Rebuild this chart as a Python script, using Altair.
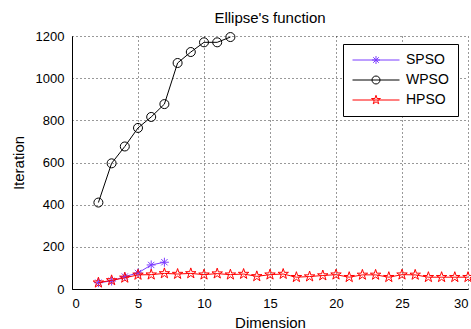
import math

import altair as alt
import pandas as pd

# Series names and their line colours
series_names = ["SPSO", "WPSO", "HPSO"]
series_colors = ["#7b3cff", "#000000", "#ff0000"]

# Iteration counts per dimension for each algorithm
spso_dim = [2, 3, 4, 5, 6, 7]
spso_iter = [30, 38, 59, 76, 114, 127]

wpso_dim = [2, 3, 4, 5, 6, 7, 8, 9, 10, 11, 12]
wpso_iter = [410, 596, 676, 764, 816, 877, 1072, 1124, 1170, 1170, 1195]

hpso_dim = list(range(2, 31))
hpso_iter = [30, 41, 53, 67, 68, 74, 71, 74, 68, 73, 68, 71, 60, 68, 71,
             56, 59, 64, 68, 56, 67, 67, 56, 68, 67, 56, 56, 56, 56]

x_ticks = [0, 5, 10, 15, 20, 25, 30]
y_ticks = [0, 200, 400, 600, 800, 1000, 1200]

FONT = "Liberation Sans"


# Marker outlines in the [-1, 1] unit square used by Vega custom symbols
def star_path(s=1.0, inner=0.382):
    pts = []
    for k in range(10):
        r = s if k % 2 == 0 else s * inner
        a = -math.pi / 2 + k * math.pi / 5
        pts.append(f"{r * math.cos(a):.3f},{r * math.sin(a):.3f}")
    return "M" + "L".join(pts) + "Z"


def asterisk_path(s=1.0):
    d = 0.7 * s
    return (f"M{-s},0L{s},0M0,{-s}L0,{s}"
            f"M{-d},{-d}L{d},{d}M{-d},{d}L{d},{-d}")


def circle_path(s=1.0):
    return (f"M{s},0A{s},{s} 0 1,1 {-s},0A{s},{s} 0 1,1 {s},0Z")


marker_paths = [asterisk_path(), "circle", star_path()]

# Legend symbols: a line segment with a small marker in the middle
seg = "M-1,0L1,0"
legend_paths = [seg + asterisk_path(0.17), seg + circle_path(0.17), seg + star_path(0.2)]

frames = []
for name, dims, vals in [("SPSO", spso_dim, spso_iter),
                         ("WPSO", wpso_dim, wpso_iter),
                         ("HPSO", hpso_dim, hpso_iter)]:
    frames.append(pd.DataFrame({"Dimension": dims, "Iteration": vals, "series": name}))
df = pd.concat(frames, ignore_index=True)

x_enc = alt.X("Dimension:Q", scale=alt.Scale(domain=[0, 30], nice=False),
              axis=alt.Axis(values=x_ticks, title="Dimension", format="d"))
y_enc = alt.Y("Iteration:Q", scale=alt.Scale(domain=[0, 1200], nice=False),
              axis=alt.Axis(values=y_ticks, title="Iteration", format="d"))

base = alt.Chart(df)
layers = []
sizes = [81, 81, 121]
for name, color, shape, size in zip(series_names, series_colors, marker_paths, sizes):
    sub = base.transform_filter(alt.datum.series == name)
    layers.append(sub.mark_line(strokeWidth=1, color=color).encode(x=x_enc, y=y_enc))
    layers.append(sub.mark_point(shape=shape, size=size, filled=False,
                                 strokeWidth=1, color=color, opacity=1)
                  .encode(x=x_enc, y=y_enc))

legend_layer = base.transform_filter("false").mark_point(filled=False).encode(
    x=x_enc,
    y=y_enc,
    color=alt.Color("series:N",
                    scale=alt.Scale(domain=series_names, range=series_colors),
                    legend=alt.Legend(title=None, orient="none", legendX=271, legendY=8,
                                      strokeColor="black", fillColor="white", padding=9,
                                      labelFont=FONT, labelFontSize=14, labelColor="black",
                                      labelOffset=6, symbolSize=2209, symbolStrokeWidth=1,
                                      symbolOpacity=1, clipHeight=14, rowPadding=6)),
    shape=alt.Shape("series:N",
                    scale=alt.Scale(domain=series_names, range=legend_paths)),
)

chart = alt.layer(*layers, legend_layer).properties(
    width=396,
    height=253,
    background="white",
    title=alt.TitleParams("Ellipse's function", font=FONT, fontSize=15,
                          fontWeight="normal", color="black", anchor="middle",
                          frame="group", baseline="alphabetic", offset=-8),
    autosize=alt.AutoSizeParams(type="none"),
    padding={"left": 72, "top": 36, "right": 3, "bottom": 40},
).configure_view(stroke=None).configure_axis(
    domainColor="black", domainWidth=1, ticks=False,
    labelFont=FONT, labelFontSize=13, labelColor="black", labelPadding=8,
    titleFont=FONT, titleFontSize=15, titleFontWeight="normal", titleColor="black",
    grid=True, gridColor="black", gridDash=[1, 3], gridOpacity=0.8, gridWidth=1,
).configure_axisX(titlePadding=5).configure_axisY(titlePadding=9)

chart.save("out.html", embed_options={"renderer": "svg", "actions": False})
